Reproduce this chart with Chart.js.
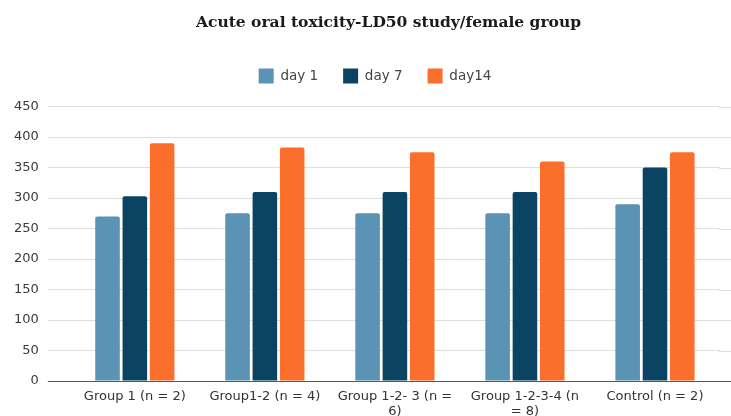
<!DOCTYPE html>
<html>
<head>
<meta charset="utf-8">
<script src="https://cdn.jsdelivr.net/npm/chart.js@4/dist/chart.umd.min.js"></script>
<style>
  html, body { margin: 0; padding: 0; background: #ffffff; }
  #wrap { width: 731px; height: 416px; position: relative; }
</style>
</head>
<body>
<div id="wrap"><canvas id="chart"></canvas></div>
<script>
// Body weight (g) of the female groups at each observation day
const groups = [
  'Group 1 (n = 2)',
  'Group1-2 (n = 4)',
  ['Group 1-2- 3 (n =', '6)'],
  ['Group 1-2-3-4 (n', '= 8)'],
  'Control (n = 2)'
];
const day1  = [270, 275, 275, 275, 290];
const day7  = [303, 310, 310, 310, 350];
const day14 = [390, 383, 375, 360, 375];
const seriesNames = ['day 1', 'day 7', 'day14'];
const yTicks = [0, 50, 100, 150, 200, 250, 300, 350, 400, 450];

const GRID = '#dedede';
const AXIS = '#5a5a5a';

// carry the horizontal gridlines on to the right edge of the canvas
const extendGrid = {
  id: 'extendGrid',
  beforeDatasetsDraw(chart) {
    const { ctx, chartArea, scales } = chart;
    ctx.save();
    yTicks.forEach(v => {
      const y = Math.round(scales.y.getPixelForValue(v)) + 0.5;
      ctx.strokeStyle = v === 0 ? AXIS : GRID;
      ctx.lineWidth = 1;
      ctx.beginPath();
      ctx.moveTo(chartArea.right - 1, y);
      ctx.lineTo(chart.width, y);
      ctx.stroke();
    });
    ctx.restore();
  }
};

// room under the legend, and centre title + legend over the gridded area
const headerLayout = {
  id: 'headerLayout',
  beforeInit(chart) {
    const fit = chart.legend.fit;
    chart.legend.fit = function () {
      fit.call(this);
      this.height += 13;
    };
  },
  afterLayout(chart) {
    chart.titleBlock.left += 52;
    chart.legend.left += 25;
  }
};

new Chart(document.getElementById('chart'), {
  type: 'bar',
  data: {
    labels: groups,
    datasets: [
      { label: seriesNames[0], data: day1,  backgroundColor: '#5a93b4' },
      { label: seriesNames[1], data: day7,  backgroundColor: '#0b4462' },
      { label: seriesNames[2], data: day14, backgroundColor: '#fb6f2d' }
    ]
  },
  options: {
    responsive: true,
    maintainAspectRatio: false,
    animation: false,
    layout: { padding: { left: 5, right: 11, top: 0, bottom: -11 } },
    datasets: {
      bar: {
        categoryPercentage: 0.63,
        barPercentage: 0.9,
        borderRadius: { topLeft: 2, topRight: 2 },
        borderSkipped: 'bottom'
      }
    },
    plugins: {
      title: {
        display: true,
        text: 'Acute oral toxicity-LD50 study/female group',
        color: '#1a1a1a',
        font: { family: 'DejaVu Serif', size: 15.5, weight: 'bold' },
        padding: { top: 14, bottom: 11 }
      },
      legend: {
        display: true,
        position: 'top',
        labels: {
          boxWidth: 15,
          boxHeight: 15,
          padding: 25,
          color: '#444444',
          font: { family: 'DejaVu Sans', size: 13.5 }
        }
      },
      tooltip: { enabled: false }
    },
    scales: {
      x: {
        grid: { display: false, drawTicks: false },
        border: { display: true, color: AXIS, width: 1 },
        ticks: {
          color: '#333333',
          padding: 8,
          maxRotation: 0,
          autoSkip: false,
          font: { family: 'DejaVu Sans', size: 13, lineHeight: 1.15 }
        }
      },
      y: {
        min: 0,
        max: 450,
        afterBuildTicks(scale) { scale.ticks = yTicks.map(v => ({ value: v })); },
        grid: {
          color: c => (c.tick && c.tick.value === 0 ? AXIS : GRID),
          tickColor: c => (c.tick && c.tick.value === 0 ? AXIS : GRID),
          tickLength: 22
        },
        border: { display: false },
        ticks: {
          color: '#3a3a3a',
          padding: 9,
          font: { family: 'DejaVu Sans', size: 13 }
        }
      }
    }
  },
  plugins: [extendGrid, headerLayout]
});
</script>
</body>
</html>
